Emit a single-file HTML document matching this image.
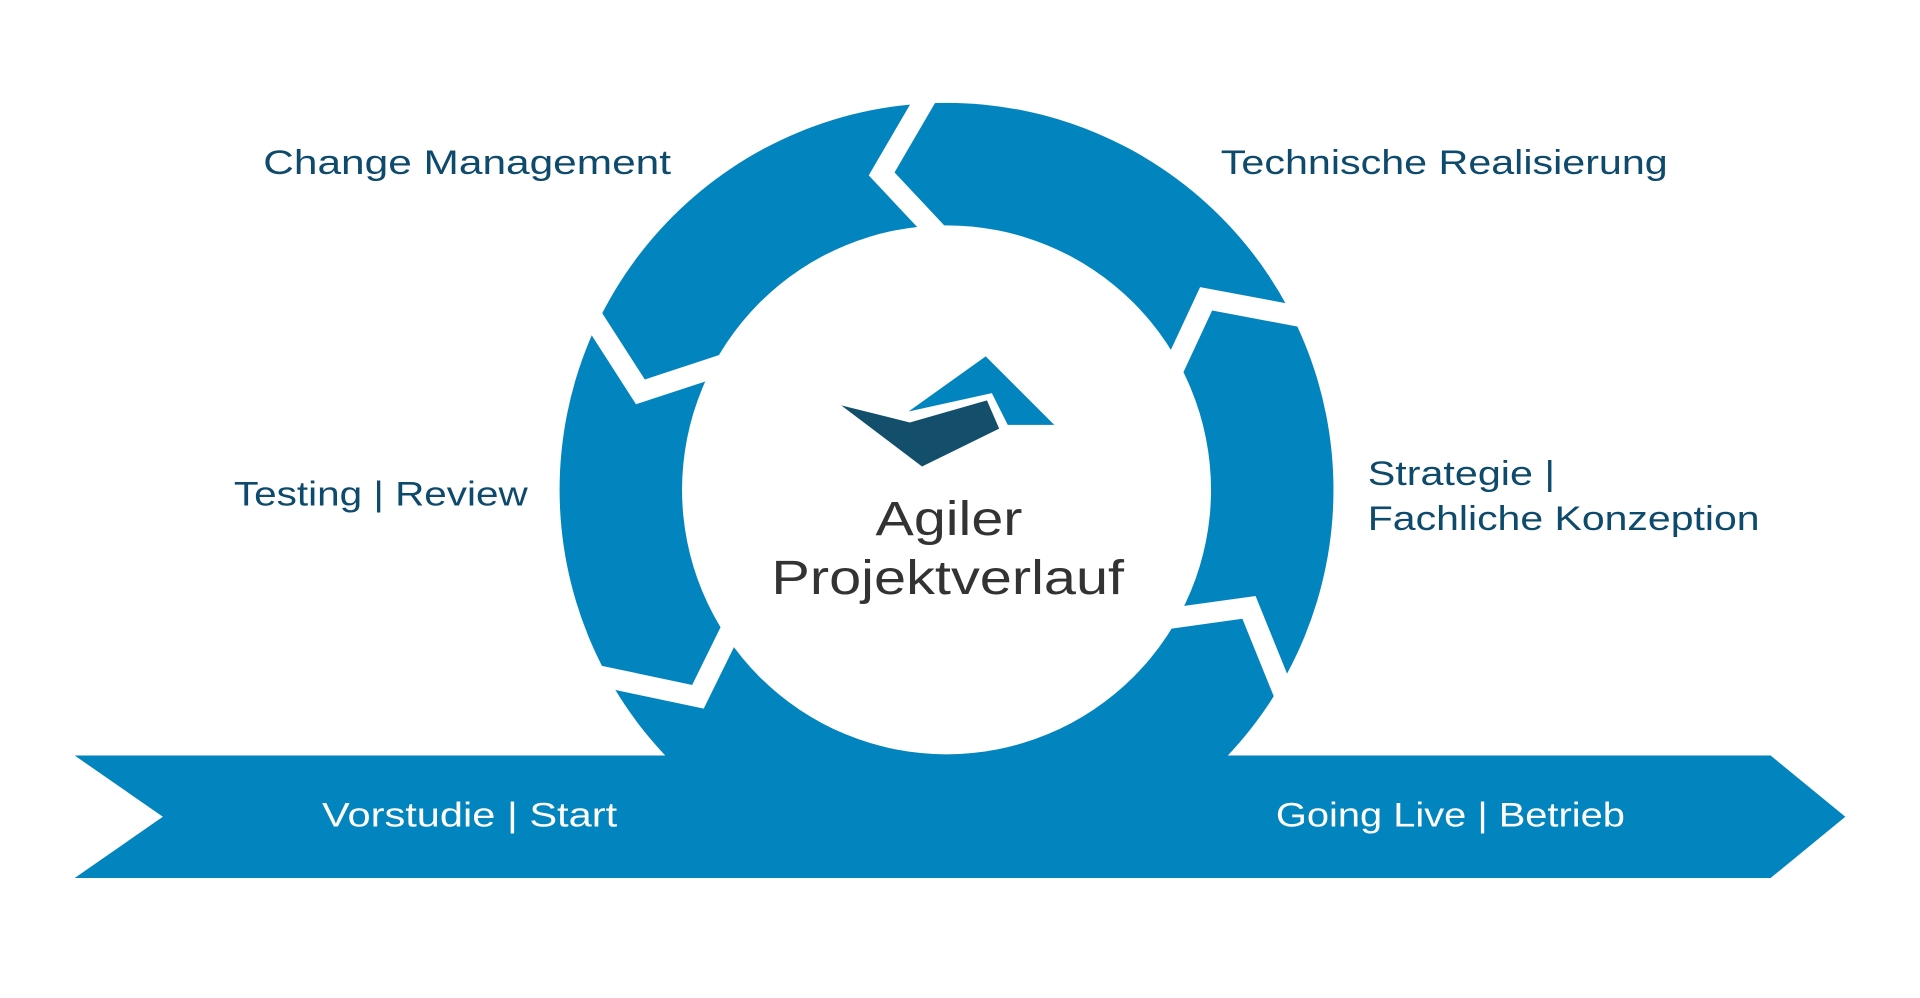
<!DOCTYPE html>
<html><head><meta charset="utf-8"><style>
html,body{margin:0;padding:0;background:#fff;overflow:hidden}
svg{display:block}
text{font-family:"Liberation Sans",sans-serif}
</style></head><body>
<svg width="1920" height="998" viewBox="0 0 1568 815" preserveAspectRatio="none" xmlns="http://www.w3.org/2000/svg">
<ellipse cx="773" cy="400" rx="316" ry="316" fill="#0284be"/>
<ellipse cx="773" cy="400" rx="216" ry="216" fill="#fff"/>
<polygon points="61,617 1446,617 1507,667 1446,717 61,717 133,667" fill="#0284be"/>
<g fill="none" stroke="#fff" stroke-width="17" stroke-linejoin="miter" stroke-miterlimit="10">
<polyline points="762,70 720,142 765,190"/>
<polyline points="1070,260 985,244 958,302"/>
<polyline points="1052,575 1020,496 955,505"/>
<polyline points="600,508 570,569 480,550"/>
<polyline points="478,250 523,320 590,298"/>
</g>
<polygon points="687,331 743,345 806,327 816,350 753,381" fill="#134f6b"/>
<polygon points="742,336 805,291 861,347 823,347 810,321" fill="#0284be"/>
<g fill="#0e4a6b" font-size="28">
<text x="215" y="142" textLength="333" lengthAdjust="spacingAndGlyphs">Change Management</text>
<text x="997" y="142" textLength="365" lengthAdjust="spacingAndGlyphs">Technische Realisierung</text>
<text x="191" y="413" textLength="240" lengthAdjust="spacingAndGlyphs">Testing | Review</text>
<text x="1117" y="396" textLength="153" lengthAdjust="spacingAndGlyphs">Strategie |</text>
<text x="1117" y="433" textLength="320" lengthAdjust="spacingAndGlyphs">Fachliche Konzeption</text>
</g>
<g fill="#333" font-size="39">
<text x="715" y="437" textLength="120" lengthAdjust="spacingAndGlyphs">Agiler</text>
<text x="630" y="485" textLength="288" lengthAdjust="spacingAndGlyphs">Projektverlauf</text>
</g>
<g fill="#fff" font-size="28">
<text x="263" y="675" textLength="241" lengthAdjust="spacingAndGlyphs">Vorstudie | Start</text>
<text x="1042" y="675" textLength="285" lengthAdjust="spacingAndGlyphs">Going Live | Betrieb</text>
</g>
</svg>
</body></html>
